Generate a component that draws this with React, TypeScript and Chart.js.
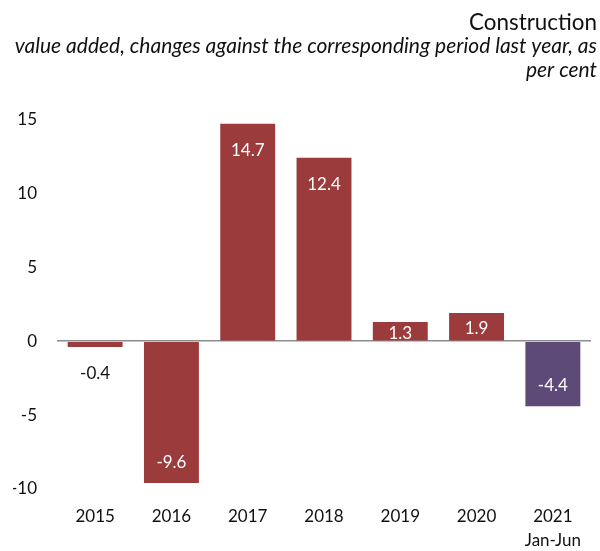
import React, { useEffect, useRef } from "react";
import { Chart, registerables } from "chart.js";

Chart.register(...registerables);

const categories: (string | string[])[] = ["2015", "2016", "2017", "2018", "2019", "2020", ["2021", "Jan-Jun"]];
const values: number[] = [-0.4, -9.6, 14.7, 12.4, 1.3, 1.9, -4.4];
const barColors: string[] = ["#9C3B3B", "#9C3B3B", "#9C3B3B", "#9C3B3B", "#9C3B3B", "#9C3B3B", "#5E4A78"];
const yTicks: number[] = [-10, -5, 0, 5, 10, 15];
const titleText = "Construction";
const subtitleLines: string[] = ["value added, changes against the corresponding period last year, as", "per cent"];

const FONT = "Lato, 'Open Sans', sans-serif";

const labelPlugin = {
  id: "barValueLabels",
  afterDatasetsDraw(chart: any) {
    const ctx = chart.ctx;
    const meta = chart.getDatasetMeta(0);
    const data = chart.data.datasets[0].data as number[];
    ctx.save();
    ctx.font = `17px ${FONT}`;
    ctx.textAlign = "center";
    ctx.textBaseline = "middle";
    meta.data.forEach((el: any, i: number) => {
      const v = data[i];
      const { x, y, base } = el.getProps(["x", "y", "base"], true);
      const h = Math.abs(base - y);
      const txt = v.toFixed(1);
      let ty: number;
      let color = "#ffffff";
      if (h < 15) {
        color = "#111111";
        ty = v < 0 ? base + 32 : base - 32;
      } else if (h < 40) {
        ty = (y + base) / 2 + 2;
      } else if (v >= 0) {
        ty = y + 27;
      } else {
        ty = y - 21;
      }
      ctx.fillStyle = color;
      ctx.fillText(txt, x, ty);
    });
    ctx.restore();
  },
};

export default function App() {
  const ref = useRef<HTMLCanvasElement | null>(null);
  useEffect(() => {
    if (!ref.current) return;
    const chart = new Chart(ref.current, {
      type: "bar",
      data: {
        labels: categories,
        datasets: [
          {
            data: values,
            backgroundColor: barColors,
            borderWidth: 0,
            categoryPercentage: 1,
            barPercentage: 0.72,
          },
        ],
      },
      options: {
        animation: false,
        responsive: true,
        maintainAspectRatio: false,
        layout: { padding: { left: 13, right: 3, top: 8, bottom: 0 } },
        plugins: {
          legend: { display: false },
          tooltip: { enabled: false },
          title: {
            display: true,
            text: titleText,
            align: "end",
            color: "#111111",
            font: { family: FONT, size: 22.4, weight: "normal", lineHeight: 1.0 },
            padding: { top: 4, bottom: 0 },
          },
          subtitle: {
            display: true,
            text: subtitleLines,
            align: "end",
            color: "#111111",
            font: { family: FONT, size: 21, style: "italic", weight: "normal", lineHeight: 1.15 },
            padding: { top: 0, bottom: 36.7 },
          },
        },
        scales: {
          x: {
            grid: { display: false, drawTicks: false },
            border: { display: false },
            ticks: {
              color: "#111111",
              font: { family: FONT, size: 17, lineHeight: 1.4 },
              padding: 16,
              maxRotation: 0,
            },
            afterFit(axis: any) {
              axis.height = 62;
            },
          },
          y: {
            min: -10,
            max: 15,
            afterBuildTicks(axis: any) {
              axis.ticks = yTicks.map((v) => ({ value: v }));
            },
            grid: {
              drawTicks: false,
              color: (c: any) => (c.tick && c.tick.value === 0 ? "#8c8c8c" : "rgba(0,0,0,0)"),
              lineWidth: 1.5,
            },
            border: { display: false },
            ticks: {
              color: "#111111",
              font: { family: FONT, size: 17 },
              padding: 20,
            },
            afterFit(axis: any) {
              axis.width = 44;
            },
          },
          yRight: {
            position: "right",
            display: true,
            grid: { display: false, drawTicks: false },
            border: { display: false },
            ticks: { display: false },
            afterFit(axis: any) {
              axis.width = 6;
            },
          },
        },
      },
      plugins: [labelPlugin],
    });
    return () => chart.destroy();
  }, []);
  return (
    <div style={{ position: "fixed", left: 0, top: 0, width: 600, height: 551, background: "#fff" }}>
      <canvas ref={ref} />
    </div>
  );
}
